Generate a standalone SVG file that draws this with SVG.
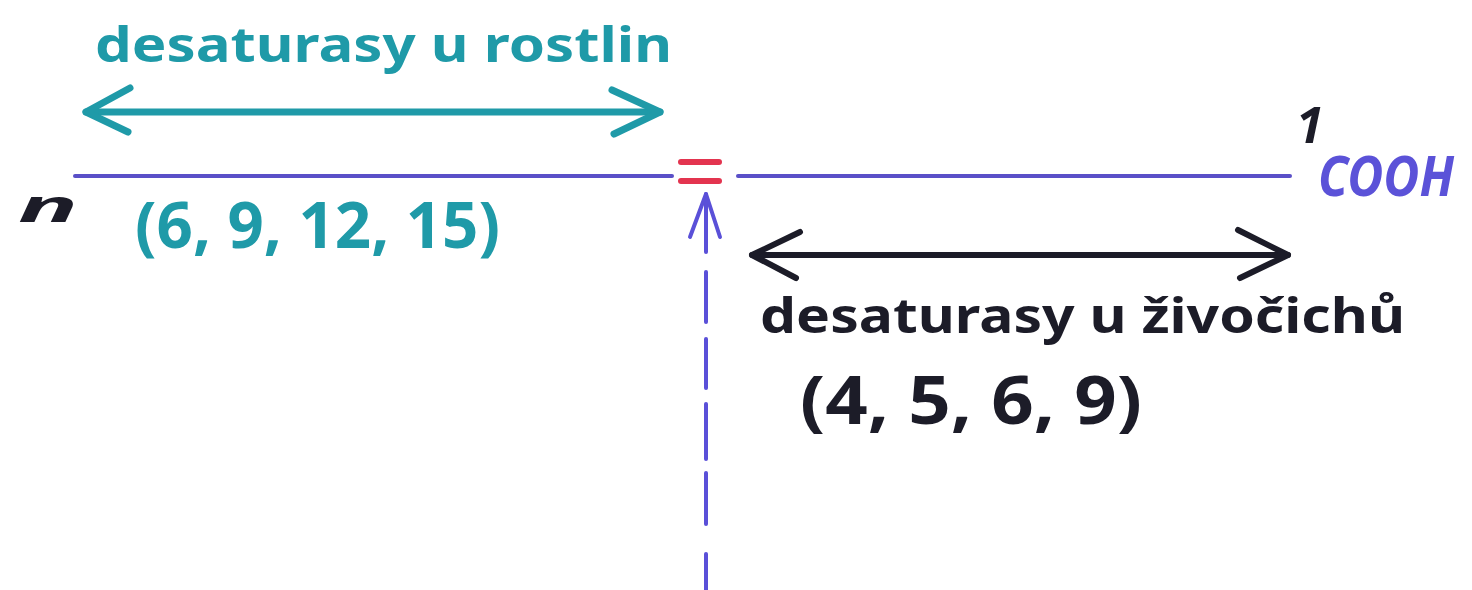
<svg xmlns="http://www.w3.org/2000/svg" width="1472" height="590" viewBox="0 0 1472 590">
<defs>
<style>
.hand{font-family:"Noto Sans","DejaVu Sans",sans-serif;font-weight:700}
.teal{fill:#1f9aa8}
.blk{fill:#1c1c28}
.blu{fill:#5b52d8}
.ln{fill:none;stroke-linecap:round;stroke-linejoin:round}
</style>
</defs>
<rect width="1472" height="590" fill="#ffffff"/>
<g id="chain">
<line class="ln" x1="75" y1="176" x2="672" y2="176" stroke="#5a50c8" stroke-width="4"/>
<line class="ln" x1="738" y1="176" x2="1290" y2="176" stroke="#5a50c8" stroke-width="4"/>
</g>
<g id="double-bond">
<line class="ln" x1="681" y1="162" x2="719" y2="162" stroke="#e3344f" stroke-width="6"/>
<line class="ln" x1="681" y1="181" x2="719" y2="181" stroke="#e3344f" stroke-width="6"/>
</g>
<g id="label-plants">
<text class="hand teal" x="95" y="62" font-size="48" font-weight="600" textLength="577" lengthAdjust="spacingAndGlyphs">desaturasy  u  rostlin</text>
</g>
<g id="positions-plants">
<text class="hand teal" x="135" y="248" font-size="64" font-weight="600" textLength="365" lengthAdjust="spacingAndGlyphs">(6, 9, 12, 15)</text>
</g>
<g id="omega-end">
<text class="hand blk" x="18" y="222" font-size="44" font-style="italic" font-weight="600" textLength="60" lengthAdjust="spacingAndGlyphs">n</text>
</g>
<g id="carboxyl-end">
<text class="hand blk" x="1296" y="143" font-size="50" font-style="italic">1</text>
<text class="hand blu" x="1318" y="196" font-size="56" font-style="italic" font-weight="400" textLength="136" lengthAdjust="spacingAndGlyphs">COOH</text>
</g>
<g id="label-animals">
<text class="hand blk" x="760" y="333" font-size="48" font-weight="600" textLength="645" lengthAdjust="spacingAndGlyphs">desaturasy  u  živočichů</text>
</g>
<g id="positions-animals">
<text class="hand blk" x="800" y="424" font-size="66" font-weight="600" textLength="342" lengthAdjust="spacingAndGlyphs">(4, 5, 6, 9)</text>
</g>
<g id="connectors">
<g stroke="#1f9aa8" stroke-width="7" class="ln">
<line x1="86" y1="112" x2="660" y2="112"/>
<polyline points="130,88 86,112 128,132"/>
<polyline points="612,90 660,112 614,134"/>
</g>
<g stroke="#1c1c28" stroke-width="6" class="ln">
<line x1="752" y1="255" x2="1288" y2="255"/>
<polyline points="800,232 752,255 796,278"/>
<polyline points="1238,230 1288,255 1240,278"/>
</g>
<g stroke="#5a50d8" stroke-width="4" class="ln">
<line x1="706" y1="194" x2="706" y2="252"/>
<polyline points="690,237 706,194 720,237"/>
<line x1="706" y1="272" x2="706" y2="322"/>
<line x1="706" y1="339" x2="706" y2="388"/>
<line x1="706" y1="404" x2="706" y2="459"/>
<line x1="706" y1="473" x2="706" y2="524"/>
<line x1="706" y1="554" x2="706" y2="592"/>
</g>
</g>
</svg>
